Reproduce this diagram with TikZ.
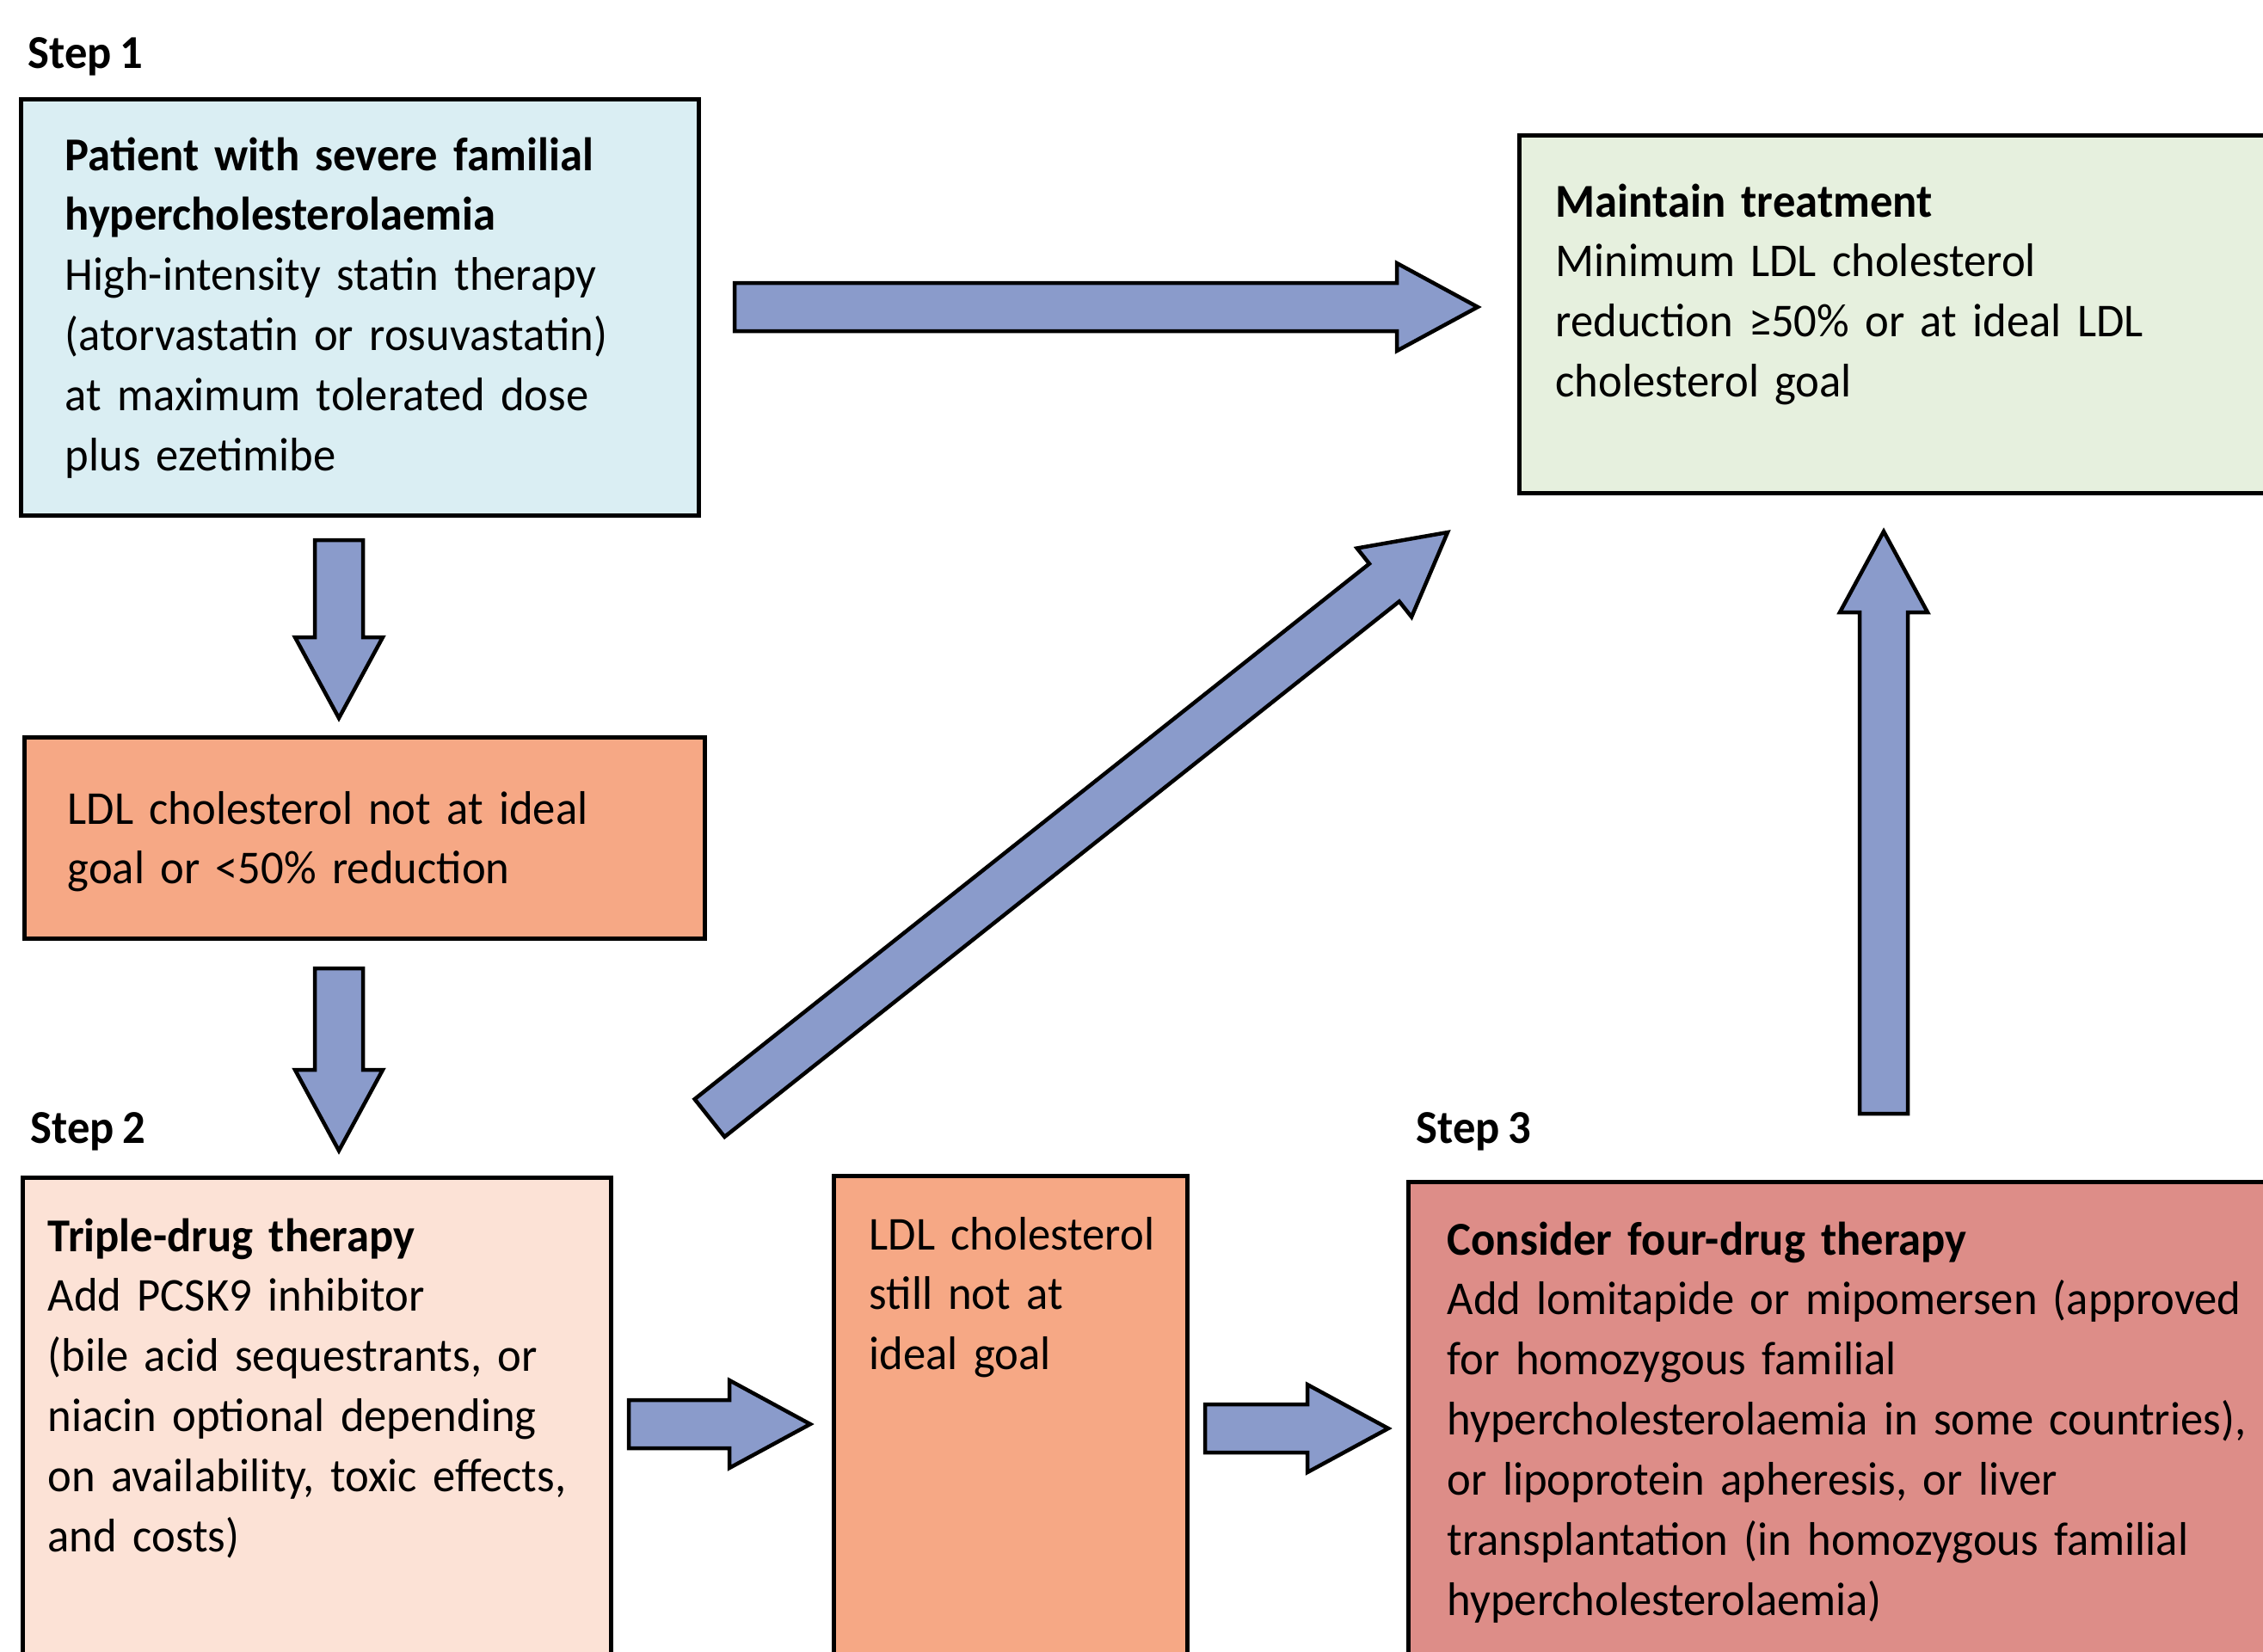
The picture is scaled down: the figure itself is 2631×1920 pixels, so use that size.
\documentclass[tikz,border=0pt]{standalone}
\usepackage{fontspec}
\setmainfont{Carlito}[FakeStretch=0.96, WordSpace=0.8]
\usetikzlibrary{calc,fit}

\definecolor{arrowblue}{HTML}{8A9BCB}
\definecolor{startblue}{HTML}{DAEEF3}
\definecolor{keepgreen}{HTML}{E6F0DE}
\definecolor{warnorange}{HTML}{F6A885}
\definecolor{triplepeach}{HTML}{FCE2D6}
\definecolor{fourrose}{HTML}{DD8D88}

\newcommand{\boxfont}{\fontsize{15.6}{19.9}\selectfont}

\tikzset{
  box/.style={draw=black, line width=0.5mm, inner sep=0pt},
  txt/.style={anchor=base west, inner sep=0pt, text width=100mm, align=left, font=\boxfont},
  steplabel/.style={anchor=base west, inner sep=0pt, font=\boxfont\bfseries},
  fatarrow/.style={draw=black, line width=0.45mm, fill=arrowblue, line join=miter,
    to path={
      ($(\tikztostart)!2.8mm!90:(\tikztotarget)$)
      -- ($(\tikztotarget)!9.4mm!(\tikztostart)!2.8mm!90:(\tikztotarget)$)
      -- ($(\tikztotarget)!9.4mm!(\tikztostart)!5.1mm!90:(\tikztotarget)$)
      -- (\tikztotarget)
      -- ($(\tikztotarget)!9.4mm!(\tikztostart)!5.1mm!-90:(\tikztotarget)$)
      -- ($(\tikztotarget)!9.4mm!(\tikztostart)!2.8mm!-90:(\tikztotarget)$)
      -- ($(\tikztostart)!2.8mm!-90:(\tikztotarget)$) -- cycle}}
}

\begin{document}
\begin{tikzpicture}[x=0.1mm, y=-0.1mm]
  \useasboundingbox (0,0) rectangle (2631,1920);
  \clip (0,0) rectangle (2631,1920);

  % boxes
  \node[box, fill=startblue, fit={(24,115) (812,599)}] (patient) {};
  \node[box, fill=keepgreen, fit={(1766,157) (2700,573)}] (maintain) {};
  \node[box, fill=warnorange, fit={(28,857) (819,1091)}] (notgoal) {};
  \node[box, fill=triplepeach, fit={(26,1369) (710,1990)}] (triple) {};
  \node[box, fill=warnorange, fit={(969,1367) (1380,1990)}] (stillnot) {};
  \node[box, fill=fourrose, fit={(1637,1374) (2700,1990)}] (fourdrug) {};

  % step labels
  \node[steplabel] (step1) at (32,79) {Step 1};
  \node[steplabel] (step2) at (35,1329) {Step 2};
  \node[steplabel] (step3) at (1646,1329) {Step 3};

  % texts
  \node[txt] (patienttext) at (75,198) {\textbf{Patient with severe familial}\\
    \textbf{hypercholesterolaemia}\\
    High-intensity statin therapy\\
    (atorvastatin or rosuvastatin)\\
    at maximum tolerated dose\\
    plus ezetimibe};
  \node[txt] (maintaintext) at (1808,252) {\textbf{Maintain treatment}\\
    Minimum LDL cholesterol\\
    reduction ≥50\% or at ideal LDL\\
    cholesterol goal};
  \node[txt] (notgoaltext) at (78,958) {LDL cholesterol not at ideal\\
    goal or <50\% reduction};
  \node[txt] (tripletext) at (55,1455) {\textbf{Triple-drug therapy}\\
    Add PCSK9 inhibitor\\
    (bile acid sequestrants, or\\
    niacin optional depending\\
    on availability, toxic effects,\\
    and costs)};
  \node[txt] (stillnottext) at (1010,1453) {LDL cholesterol\\
    still not at\\
    ideal goal};
  \node[txt] (fourdrugtext) at (1682,1459) {\textbf{Consider four-drug therapy}\\
    Add lomitapide or mipomersen (approved\\
    for homozygous familial\\
    hypercholesterolaemia in some countries),\\
    or lipoprotein apheresis, or liver\\
    transplantation (in homozygous familial\\
    hypercholesterolaemia)};

  % arrow ends
  \coordinate (a1s) at (854,357);   \coordinate (a1e) at (1718,357);
  \coordinate (a2s) at (394,628);   \coordinate (a2e) at (394,835);
  \coordinate (a3s) at (394,1126);  \coordinate (a3e) at (394,1338);
  \coordinate (a4s) at (731,1656);  \coordinate (a4e) at (942,1656);
  \coordinate (a5s) at (1401,1661); \coordinate (a5e) at (1614,1661);
  \coordinate (a6s) at (825,1300);  \coordinate (a6e) at (1683,619);
  \coordinate (a7s) at (2190,1295); \coordinate (a7e) at (2190,618);

  % arrows
  \draw[fatarrow] (a1s) to (a1e);
  \draw[fatarrow] (a2s) to (a2e);
  \draw[fatarrow] (a3s) to (a3e);
  \draw[fatarrow] (a4s) to (a4e);
  \draw[fatarrow] (a5s) to (a5e);
  \draw[fatarrow] (a6s) to (a6e);
  \draw[fatarrow] (a7s) to (a7e);
\end{tikzpicture}
\end{document}
